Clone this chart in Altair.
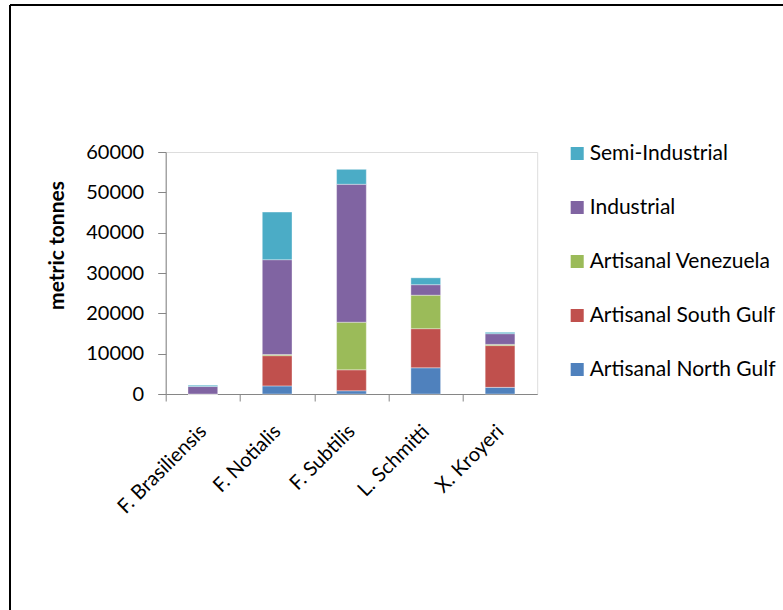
import altair as alt
import pandas as pd

categories = ["F. Brasiliensis", "F. Notialis", "F. Subtilis", "L. Schmitti", "X. Kroyeri"]
series = ["Artisanal North Gulf", "Artisanal South Gulf", "Artisanal Venezuela", "Industrial", "Semi-Industrial"]
north_gulf = [0, 2000, 800, 6500, 1650]
south_gulf = [0, 7500, 5200, 9700, 10350]
venezuela = [0, 300, 11800, 8300, 300]
industrial = [1850, 23500, 34200, 2600, 2650]
semi_industrial = [320, 11800, 3700, 1700, 350]
colors = ["#4F81BD", "#C0504D", "#9BBB59", "#8064A2", "#4BACC6"]
y_ticks = [0, 10000, 20000, 30000, 40000, 50000, 60000]

values = [north_gulf, south_gulf, venezuela, industrial, semi_industrial]
rows = []
for si, (s, vals) in enumerate(zip(series, values)):
    for c, v in zip(categories, vals):
        rows.append({"species": c, "series": s, "tonnes": v, "order": si})
df = pd.DataFrame(rows)

W = 371.5
H = 242
step = W / len(categories)
FONT = "Lato"

legend_order = list(reversed(series))
legend_colors = list(reversed(colors))

bars = alt.Chart(df).mark_bar(stroke="white", strokeWidth=0.6, strokeOpacity=0.6).encode(
    x=alt.X("species:N", sort=categories,
            scale=alt.Scale(paddingInner=0.6, paddingOuter=0.3),
            axis=alt.Axis(title=None, labelAngle=-45, labelAlign="right", labelBaseline="middle",
                          labelPadding=27, tickOffset=-step / 2, labelOffset=step / 2,
                          tickSize=7, domainColor="#868686", tickColor="#868686",
                          labelFont=FONT, labelFontSize=20, labelColor="black")),
    y=alt.Y("tonnes:Q", stack="zero",
            scale=alt.Scale(domain=[0, 60000], nice=False),
            axis=alt.Axis(title="metric tonnes", values=y_ticks, grid=False, format="d",
                          tickSize=8, domainColor="#868686", tickColor="#868686",
                          labelFont=FONT, labelFontSize=20, labelColor="black", labelPadding=14,
                          titleFont=FONT, titleFontSize=21, titleFontWeight="bold", titleColor="black",
                          titleAngle=-90, titleX=-108, titleY=93, titleAlign="center",
                          titleBaseline="middle")),
    color=alt.Color("series:N",
                    scale=alt.Scale(domain=legend_order, range=legend_colors),
                    legend=alt.Legend(title=None, orient="none", legendX=401, legendY=-9,
                                      symbolType="square", symbolSize=170, symbolStrokeWidth=0,
                                      symbolOpacity=1, labelFont=FONT, labelFontSize=21,
                                      labelColor="black", rowPadding=32, labelOffset=2,
                                      labelLimit=300)),
    order=alt.Order("order:Q", sort="ascending"),
)

frame_left = alt.Chart(alt.Data(values=[{}])).mark_rule(color="black", strokeWidth=2).encode(
    x=alt.value(10 - 165.7), y=alt.value(5 - 152), y2=alt.value(700))
frame_top = alt.Chart(alt.Data(values=[{}])).mark_rule(color="black", strokeWidth=2).encode(
    x=alt.value(10 - 165.7), x2=alt.value(800), y=alt.value(5 - 152))

chart = alt.layer(bars, frame_left, frame_top).properties(
    width=W, height=H,
    autosize=alt.AutoSizeParams(type="none"),
    padding={"left": 165.7, "top": 152, "right": 783 - 165.7 - W, "bottom": 610 - 152 - H},
).configure_view(stroke=None).configure(background="white")

chart.save("out.html", embed_options={"renderer": "svg", "actions": False})
